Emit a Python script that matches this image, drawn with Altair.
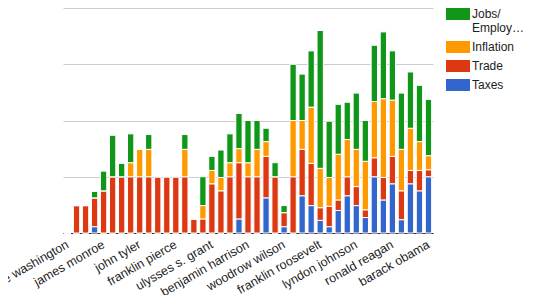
import altair as alt
import pandas as pd

presidents = ["george washington", "john adams", "thomas jefferson", "james madison", "james monroe",
              "john quincy adams", "andrew jackson", "martin van buren", "john tyler", "james k. polk",
              "zachary taylor", "millard fillmore", "franklin pierce", "james buchanan", "abraham lincoln",
              "andrew johnson", "ulysses s. grant", "rutherford b. hayes", "chester a. arthur", "grover cleveland",
              "benjamin harrison", "william mckinley", "theodore roosevelt", "william howard taft", "woodrow wilson",
              "warren g. harding", "calvin coolidge", "herbert hoover", "franklin roosevelt", "harry s. truman",
              "dwight d. eisenhower", "john f. kennedy", "lyndon johnson", "richard nixon", "gerald ford",
              "jimmy carter", "ronald reagan", "george h. w. bush", "bill clinton", "george w. bush", "barack obama"]

taxes = [0, 0, 0, 0.9, 0, 0, 0, 0, 0, 0, 0, 0, 0, 0, 0, 0, 0, 0, 0, 2, 0, 0, 5, 0, 0.9,
         0, 5.3, 3.9, 1.8, 0.9, 3.2, 5.3, 3.9, 2.2, 8, 4.7, 7, 1.9, 7, 6, 8]
trade = [0, 3.9, 3.9, 4.1, 6, 8, 8, 8, 8, 8, 8, 8, 8, 8, 2, 2, 7, 6, 8, 8, 8, 8, 5.9, 8, 2,
         8, 6.6, 6, 1.8, 2.9, 1.5, 2.7, 2.7, 1.1, 2.7, 3.2, 3.9, 4.1, 1.9, 2.9, 1]
inflation = [0, 0, 0, 0, 0, 0, 0, 2, 3.9, 3.9, 0, 0, 0, 3.9, 0, 1.9, 1.9, 1.9, 2, 2, 2, 3.9, 2.1, 0, 0,
             8, 4.1, 8, 5.6, 4.1, 6.5, 5.3, 5.3, 6.9, 8, 11.2, 8, 5.9, 6, 4.1, 2]
jobs = [0, 0, 0, 0.9, 2.8, 5.9, 1.9, 4.1, 0, 2.1, 0, 0, 0, 2.1, 0, 4.1, 2, 3.9, 4.1, 5, 6, 4.1, 1.9, 2, 1,
        8, 6.6, 8, 19.6, 8, 7.1, 5.3, 8, 5.8, 8, 9.5, 7, 8, 8, 8, 8]

series_names = ["Taxes", "Trade", "Inflation", "Jobs/Employment"]
series_values = [taxes, trade, inflation, jobs]
legend_order = ["Jobs/Employment", "Inflation", "Trade", "Taxes"]
legend_colors = ["#109618", "#ff9900", "#dc3912", "#3366cc"]
shown_labels = presidents[::4]

rows = []
for k, (name, vals) in enumerate(zip(series_names, series_values)):
    for p, v in zip(presidents, vals):
        rows.append({"president": p, "series": name, "value": v, "k": k})
df = pd.DataFrame(rows)

shown_js = "[" + ",".join("'" + s + "'" for s in shown_labels) + "]"

chart = alt.Chart(df).mark_bar(stroke="white", strokeWidth=1).encode(
    x=alt.X("president:N", sort=presidents,
            scale=alt.Scale(paddingInner=0.3, paddingOuter=0.15),
            axis=alt.Axis(title=None, labelAngle=-30, labelAlign="right", labelBaseline="middle",
                          labelPadding=10, ticks=False, domainColor="#333333", domainWidth=1,
                          labelFontSize=12.5, labelFont="Arial", labelColor="#222222",
                          labelOverlap=False, grid=False,
                          labelExpr="indexof(" + shown_js + ", datum.value) >= 0 ? datum.value : ''")),
    y=alt.Y("value:Q", stack="zero",
            scale=alt.Scale(domain=[0, 32], nice=False),
            axis=alt.Axis(title=None, labels=False, ticks=False, domain=False,
                          values=[0, 8, 16, 24, 32], gridColor="#cccccc")),
    color=alt.Color("series:N",
                    scale=alt.Scale(domain=legend_order, range=legend_colors),
                    legend=alt.Legend(title=None, orient="none", legendX=389, legendY=0,
                                      symbolType="M-2,-1H2V1H-2Z", symbolSize=144,
                                      symbolStrokeWidth=0, symbolOpacity=1,
                                      labelFontSize=12, labelFont="Arial", labelColor="#222222",
                                      labelOffset=8, rowPadding=7, padding=0,
                                      labelExpr="datum.label == 'Jobs/Employment' ? ['Jobs/', 'Employ\u2026'] : datum.label")),
    order=alt.Order("k:Q", sort="ascending"),
).properties(
    width=370, height=225,
    autosize=alt.AutoSizeParams(type="none"),
    padding={"left": 55, "top": 0, "right": 107, "bottom": 62},
).configure_view(stroke=None)

chart.save("out.html", embed_options={"renderer": "svg", "actions": False})
